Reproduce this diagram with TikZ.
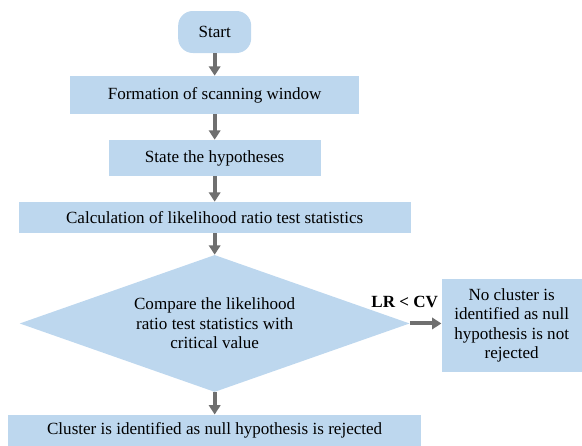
\documentclass[tikz,border=0pt]{standalone}
\usepackage{fontspec}
\setmainfont{Liberation Serif}
\usepackage{xcolor}
\usepackage{tikz}
\usetikzlibrary{shapes.geometric, arrows.meta, positioning}
\definecolor{boxblue}{HTML}{BDD7EE}
\definecolor{arrowgray}{HTML}{6F6F6F}
\tikzstyle{startstop} = [rectangle, rounded corners=11pt,
minimum width=54.75pt,
minimum height=31.5pt, text centered,
fill=boxblue]
\tikzstyle{process} = [rectangle,
minimum height=27pt,
text centered, align=center,
fill=boxblue]
\tikzstyle{decision} = [diamond, aspect=2.85,
minimum width=292.5pt,
minimum height=102.75pt,
text centered, align=center, inner sep=0pt,
fill=boxblue]
\tikzstyle{arrow} = [line width=3pt, draw=arrowgray, -{Triangle[length=7pt,width=8.5pt]}]

\begin{document}
\begin{tikzpicture}[node distance=47.25pt, font=\fontsize{12.8}{14.6}\selectfont]
            \useasboundingbox (0,0) rectangle (436.5pt,-334.5pt);
            \node (start) [startstop] at (161pt,-24pt) {Start};
            \node (window) [process, below of=start, minimum width=216.75pt, minimum height=28.5pt] {Formation of scanning window};
            \node (hypo) [process, below of=window, minimum width=159pt] {State the hypotheses};
            \node (calc) [process, below of=hypo, node distance=44.6pt, minimum width=294pt, minimum height=23.25pt] {Calculation of likelihood ratio test statistics};
            \node (compare) [decision, below of=calc, node distance=79.5pt] {Compare the likelihood\\ratio test statistics with\\critical value};
            \node (reject) [process, below of=compare, node distance=80.5pt, minimum width=309.75pt, minimum height=24pt] {Cluster is identified as null hypothesis is rejected};
            \node (keep) [process, right of=compare, node distance=222.75pt, yshift=-1.5pt, minimum width=105pt, minimum height=69.75pt] {No cluster is\\identified as null\\hypothesis is not\\rejected};

            \draw [arrow] (start) -- (window);
            \draw [arrow] (window) -- (hypo);
            \draw [arrow] (hypo) -- (calc);
            \draw [arrow] (calc) -- (compare);
            \draw [arrow] (compare) -- (reject);
            \draw [arrow] (compare.east) -- node[pos=1, anchor=south east, yshift=9pt, inner sep=1pt, font=\fontsize{12.8}{14.6}\selectfont\bfseries] {LR < CV} (keep.west |- compare.east);
        \end{tikzpicture}
\end{document}
